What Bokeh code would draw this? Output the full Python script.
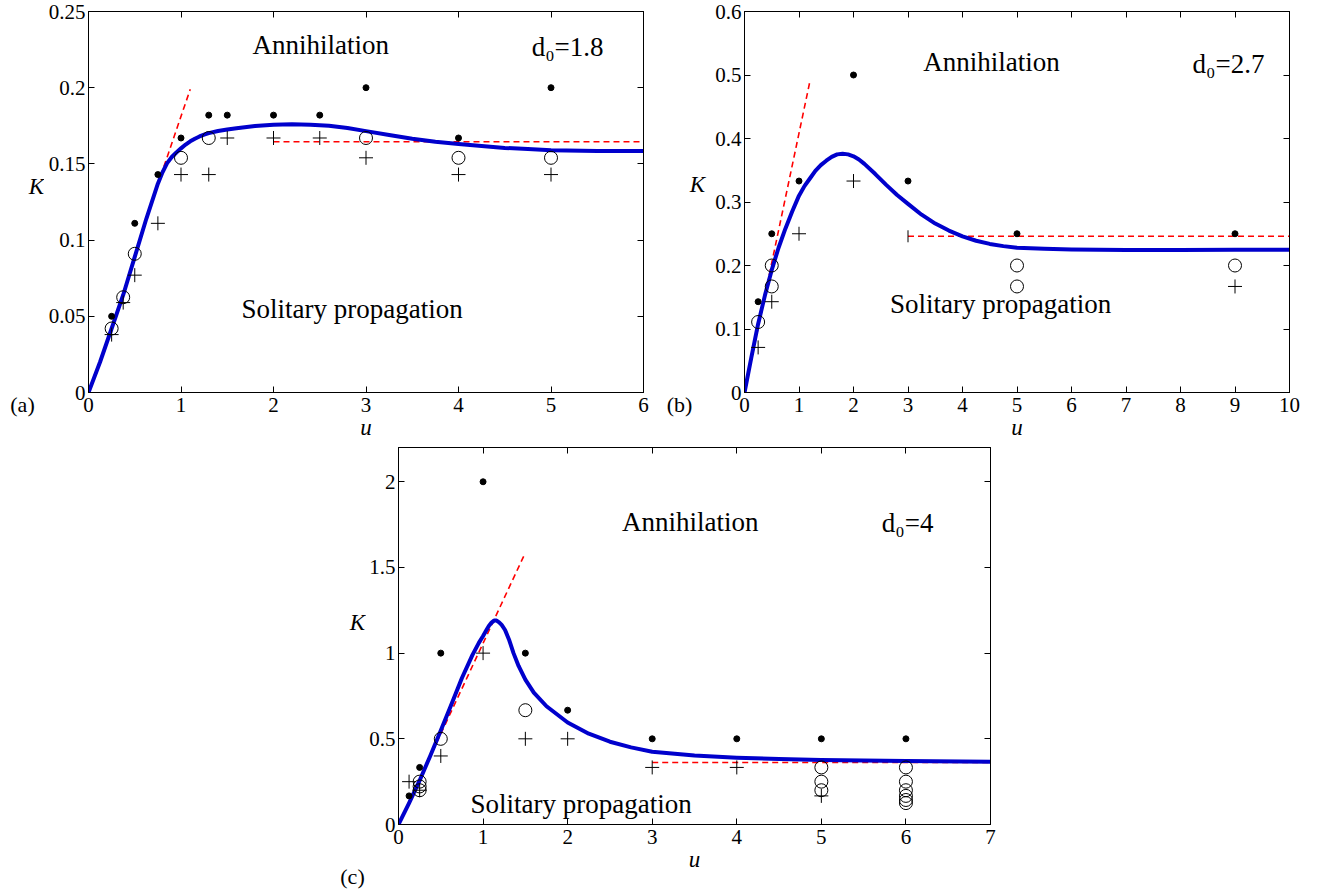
import math
from bokeh.plotting import figure
from bokeh.models import Range1d, FixedTicker, LinearAxis, Label, Spacer
from bokeh.layouts import column, row
from bokeh.embed import file_html
from bokeh.resources import INLINE

FONT = "Liberation Serif"
BLUE = "#0000cc"
RED = "#ff0000"

# ---------------- Panel (a): d0 = 1.8 ----------------
a_dot_u = [0.25, 0.5, 0.75, 1.0, 1.3, 1.5, 2.0, 2.5, 3.0, 4.0, 5.0]
a_dot_k = [0.05, 0.111, 0.143, 0.167, 0.182, 0.182, 0.182, 0.182, 0.2, 0.167, 0.2]
a_circ_u = [0.25, 0.375, 0.5, 1.0, 1.3, 3.0, 4.0, 5.0]
a_circ_k = [0.042, 0.0625, 0.091, 0.154, 0.167, 0.167, 0.154, 0.154]
a_plus_u = [0.25, 0.375, 0.5, 0.75, 1.0, 1.3, 1.5, 2.0, 2.5, 3.0, 4.0, 5.0]
a_plus_k = [0.038, 0.059, 0.077, 0.111, 0.143, 0.143, 0.167, 0.167, 0.167, 0.154, 0.143, 0.143]
a_curve_u = [0, 0.125, 0.25, 0.375, 0.5, 0.625, 0.75, 0.8, 0.85, 0.9, 0.95, 1.0, 1.05, 1.1,
             1.15, 1.2, 1.25, 1.3, 1.4, 1.5, 1.6, 1.8, 2.0, 2.2, 2.4, 2.6, 2.8, 3.0, 3.25,
             3.5, 3.75, 4.0, 4.25, 4.5, 4.75, 5.0, 5.5, 6.0]
a_curve_k = [0, 0.02, 0.042, 0.064, 0.089, 0.114, 0.137, 0.1445, 0.1505, 0.1545, 0.1575,
             0.1602, 0.1627, 0.1648, 0.1665, 0.168, 0.1692, 0.1702, 0.1716, 0.1726, 0.1734,
             0.1748, 0.1757, 0.176, 0.1757, 0.175, 0.1735, 0.1715, 0.169, 0.1665, 0.1645,
             0.163, 0.1617, 0.1605, 0.1597, 0.159, 0.1585, 0.1585]
a_slope_u = [0.78, 1.1]
a_slope_k = [0.142, 0.199]
a_flat_u = [2.0, 6.0]
a_flat_k = [0.1645, 0.1645]
a_xticks = [0, 1, 2, 3, 4, 5, 6]
a_yticks = [0, 0.05, 0.1, 0.15, 0.2, 0.25]
a_ylabels = ["0", "0.05", "0.1", "0.15", "0.2", "0.25"]

# ---------------- Panel (b): d0 = 2.7 ----------------
b_dot_u = [0.25, 0.5, 1.0, 2.0, 3.0, 5.0, 9.0]
b_dot_k = [0.143, 0.25, 0.333, 0.5, 0.333, 0.25, 0.25]
b_circ_u = [0.25, 0.5, 0.5, 5.0, 5.0, 9.0]
b_circ_k = [0.111, 0.2, 0.167, 0.2, 0.167, 0.2]
b_plus_u = [0.25, 0.5, 1.0, 2.0, 9.0]
b_plus_k = [0.071, 0.143, 0.25, 0.333, 0.167]
b_tick_u = [3.0]
b_tick_k = [0.246]
b_curve_u = [0, 0.125, 0.25, 0.375, 0.5, 0.625, 0.75, 0.875, 1.0, 1.1, 1.2, 1.3, 1.4, 1.5,
             1.6, 1.7, 1.8, 1.9, 2.0, 2.1, 2.2, 2.4, 2.6, 2.8, 3.0, 3.25, 3.5, 3.75, 4.0,
             4.25, 4.5, 4.75, 5.0, 5.5, 6.0, 7.0, 8.0, 9.0, 10.0]
b_curve_k = [0, 0.055, 0.108, 0.153, 0.193, 0.228, 0.258, 0.285, 0.31, 0.325, 0.337, 0.349,
             0.358, 0.365, 0.371, 0.375, 0.376, 0.375, 0.372, 0.367, 0.36, 0.344, 0.327,
             0.311, 0.297, 0.28, 0.266, 0.255, 0.246, 0.239, 0.234, 0.2305, 0.228, 0.2262,
             0.2252, 0.2245, 0.2245, 0.2248, 0.225]
b_slope_u = [0.0, 1.2]
b_slope_k = [0.0, 0.49]
b_flat_u = [3.0, 10.0]
b_flat_k = [0.246, 0.246]
b_xticks = [0, 1, 2, 3, 4, 5, 6, 7, 8, 9, 10]
b_yticks = [0, 0.1, 0.2, 0.3, 0.4, 0.5, 0.6]
b_ylabels = ["0", "0.1", "0.2", "0.3", "0.4", "0.5", "0.6"]

# ---------------- Panel (c): d0 = 4 ----------------
c_dot_u = [0.125, 0.25, 0.5, 1.0, 1.5, 2.0, 3.0, 4.0, 5.0, 6.0]
c_dot_k = [0.167, 0.333, 1.0, 2.0, 1.0, 0.667, 0.5, 0.5, 0.5, 0.5]
c_circ_u = [0.25, 0.25, 0.25, 0.5, 1.5, 5.0, 5.0, 5.0, 6.0, 6.0, 6.0, 6.0, 6.0, 6.0]
c_circ_k = [0.25, 0.222, 0.2, 0.5, 0.667, 0.333, 0.25, 0.2, 0.333, 0.25, 0.2, 0.167, 0.143, 0.125]
c_plus_u = [0.125, 0.25, 0.5, 1.0, 1.5, 2.0, 3.0, 4.0, 5.0]
c_plus_k = [0.25, 0.2, 0.4, 1.0, 0.5, 0.5, 0.333, 0.333, 0.167]
c_curve_u = [0, 0.125, 0.25, 0.375, 0.5, 0.625, 0.75, 0.875, 0.95, 1.0, 1.04, 1.07, 1.1,
             1.13, 1.16, 1.19, 1.22, 1.26, 1.31, 1.36, 1.42, 1.5, 1.6, 1.75, 2.0, 2.25,
             2.5, 2.75, 3.0, 3.5, 4.0, 4.5, 5.0, 5.5, 6.0, 7.0]
c_curve_k = [0, 0.125, 0.257, 0.4, 0.548, 0.7, 0.855, 0.99, 1.06, 1.1, 1.135, 1.16, 1.178,
             1.19, 1.19, 1.18, 1.165, 1.135, 1.075, 1.0, 0.925, 0.845, 0.77, 0.69, 0.595,
             0.53, 0.483, 0.45, 0.425, 0.402, 0.39, 0.382, 0.377, 0.373, 0.37, 0.366]
c_slope_u = [0.0, 1.48]
c_slope_k = [0.0, 1.565]
c_flat_u = [3.0, 7.0]
c_flat_k = [0.362, 0.362]
c_xticks = [0, 1, 2, 3, 4, 5, 6, 7]
c_yticks = [0, 0.5, 1, 1.5, 2]
c_ylabels = ["0", "0.5", "1", "1.5", "2"]

TICK_FS = "21px"
ANN_FS = "27px"
AX_FS = "23px"
ROW1_H = 444
ROW2_H = 450


def make_panel(fw, fh, borders, xr, yr, xticks, yticks, ylabels):
    left, right, top, bottom = borders
    p = figure(frame_width=fw, frame_height=fh, x_range=Range1d(*xr), y_range=Range1d(*yr),
               output_backend="svg", toolbar_location=None,
               min_border_left=left, min_border_right=right,
               min_border_top=top, min_border_bottom=bottom)
    p.xgrid.visible = False
    p.ygrid.visible = False
    p.outline_line_color = "black"
    p.outline_line_width = 1
    p.background_fill_color = "white"
    p.border_fill_color = "white"
    for ax in (p.xaxis[0], p.yaxis[0]):
        ax.major_tick_in = 6
        ax.major_tick_out = 0
        ax.minor_tick_in = 0
        ax.minor_tick_out = 0
        ax.axis_line_color = "black"
        ax.major_tick_line_color = "black"
        ax.major_label_text_font = FONT
        ax.major_label_text_font_size = TICK_FS
        ax.major_label_text_color = "black"
    xa = p.xaxis[0]
    xa.axis_label = "u"
    xa.axis_label_text_font = FONT
    xa.axis_label_text_font_size = AX_FS
    xa.axis_label_text_font_style = "italic"
    xa.axis_label_text_color = "black"
    xa.axis_label_standoff = 0
    xa.ticker = FixedTicker(ticks=xticks)
    xa.major_label_overrides = {t: str(t) for t in xticks}
    xa.major_label_standoff = 5
    ya = p.yaxis[0]
    ya.ticker = FixedTicker(ticks=yticks)
    ya.major_label_overrides = {t: l for t, l in zip(yticks, ylabels)}
    ya.major_label_standoff = 3
    # mirrored ticks (box on)
    top_ax = LinearAxis(ticker=FixedTicker(ticks=xticks), major_tick_in=6, major_tick_out=0,
                        minor_tick_in=0, minor_tick_out=0, major_label_text_font_size="1px",
                        major_label_overrides={t: "" for t in xticks},
                        major_label_standoff=0, axis_line_color="black")
    right_ax = LinearAxis(ticker=FixedTicker(ticks=yticks), major_tick_in=6, major_tick_out=0,
                          minor_tick_in=0, minor_tick_out=0, major_label_text_font_size="1px",
                          major_label_overrides={t: "" for t in yticks},
                          major_label_standoff=0, axis_line_color="black")
    p.add_layout(top_ax, "above")
    p.add_layout(right_ax, "right")
    return p


def label_column(width, height, texts):
    # narrow strip holding the panel letter and the upright K, in pixel-like coordinates
    f = figure(width=width, height=height, x_range=Range1d(0, width),
               y_range=Range1d(height, 0), x_axis_type=None, y_axis_type=None,
               output_backend="svg", toolbar_location=None,
               min_border_left=0, min_border_right=0, min_border_top=0, min_border_bottom=0)
    try:
        f.frame_align = False
    except Exception:
        pass
    f.xgrid.visible = False
    f.ygrid.visible = False
    f.outline_line_color = None
    f.background_fill_color = "white"
    f.border_fill_color = "white"
    for x, y, t, size, style in texts:
        f.add_layout(Label(x=x, y=y, text=t, text_font=FONT, text_font_size=size,
                           text_font_style=style, text_align="center",
                           text_baseline="middle", text_color="black"))
    return f


def draw(p, curve_u, curve_k, slope_u, slope_k, flat_u, flat_k,
         dot_u, dot_k, circ_u, circ_k, plus_u, plus_k):
    p.line(slope_u, slope_k, line_color=RED, line_width=1.6, line_dash="6 4")
    p.line(flat_u, flat_k, line_color=RED, line_width=1.6, line_dash="6 4")
    p.line(curve_u, curve_k, line_color=BLUE, line_width=4, line_join="round")
    p.scatter(dot_u, dot_k, marker="circle", size=6, fill_color="black", line_color="black")
    p.scatter(circ_u, circ_k, marker="circle", size=13, fill_color=None,
              line_color="black", line_width=1)
    p.scatter(plus_u, plus_k, marker="cross", size=14, line_color="black", line_width=1)


def label(p, x, y, text, size):
    p.add_layout(Label(x=x, y=y, text=text, text_font=FONT, text_font_size=size,
                       text_align="center", text_baseline="middle", text_color="black"))


# Panel (a)
la = label_column(44, ROW1_H, [(22, 404, "(a)", "22px", "normal"),
                               (36, 186, "K", AX_FS, "italic")])
pa = make_panel(555, 381, (44, 17, 11, 52), (0, 6), (0, 0.25), a_xticks, a_yticks, a_ylabels)
draw(pa, a_curve_u, a_curve_k, a_slope_u, a_slope_k, a_flat_u, a_flat_k,
     a_dot_u, a_dot_k, a_circ_u, a_circ_k, a_plus_u, a_plus_k)
label(pa, 2.51, 0.228, "Annihilation", ANN_FS)
label(pa, 5.18, 0.227, "d\u2080=1.8", ANN_FS)
label(pa, 2.85, 0.055, "Solitary propagation", ANN_FS)

# Panel (b)
lb = label_column(52, ROW1_H, [(19, 404, "(b)", "22px", "normal"),
                               (37, 184, "K", AX_FS, "italic")])
pb = make_panel(545, 381, (32, 39, 11, 52), (0, 10), (0, 0.6), b_xticks, b_yticks, b_ylabels)
draw(pb, b_curve_u, b_curve_k, b_slope_u, b_slope_k, b_flat_u, b_flat_k,
     b_dot_u, b_dot_k, b_circ_u, b_circ_k, b_plus_u, b_plus_k)
pb.scatter(b_tick_u, b_tick_k, marker="dash", angle=math.pi / 2, size=12,
           line_color="black", line_width=1)
label(pb, 4.53, 0.521, "Annihilation", ANN_FS)
label(pb, 8.88, 0.518, "d\u2080=2.7", ANN_FS)
label(pb, 4.70, 0.140, "Solitary propagation", ANN_FS)

# Panel (c)
lc = label_column(36, ROW2_H, [(22, 432, "(c)", "22px", "normal"),
                               (27, 178, "K", AX_FS, "italic")])
pc = make_panel(592, 377, (32, 20, 3, 66), (0, 7), (0, 2.2), c_xticks, c_yticks, c_ylabels)
draw(pc, c_curve_u, c_curve_k, c_slope_u, c_slope_k, c_flat_u, c_flat_k,
     c_dot_u, c_dot_k, c_circ_u, c_circ_k, c_plus_u, c_plus_k)
label(pc, 3.45, 1.768, "Annihilation", ANN_FS)
label(pc, 6.02, 1.762, "d\u2080=4", ANN_FS)
label(pc, 2.16, 0.117, "Solitary propagation", ANN_FS)

layout = column(row(la, pa, lb, pb), row(Spacer(width=330, height=10), lc, pc))

open("out.html", "w").write(file_html(layout, INLINE))
